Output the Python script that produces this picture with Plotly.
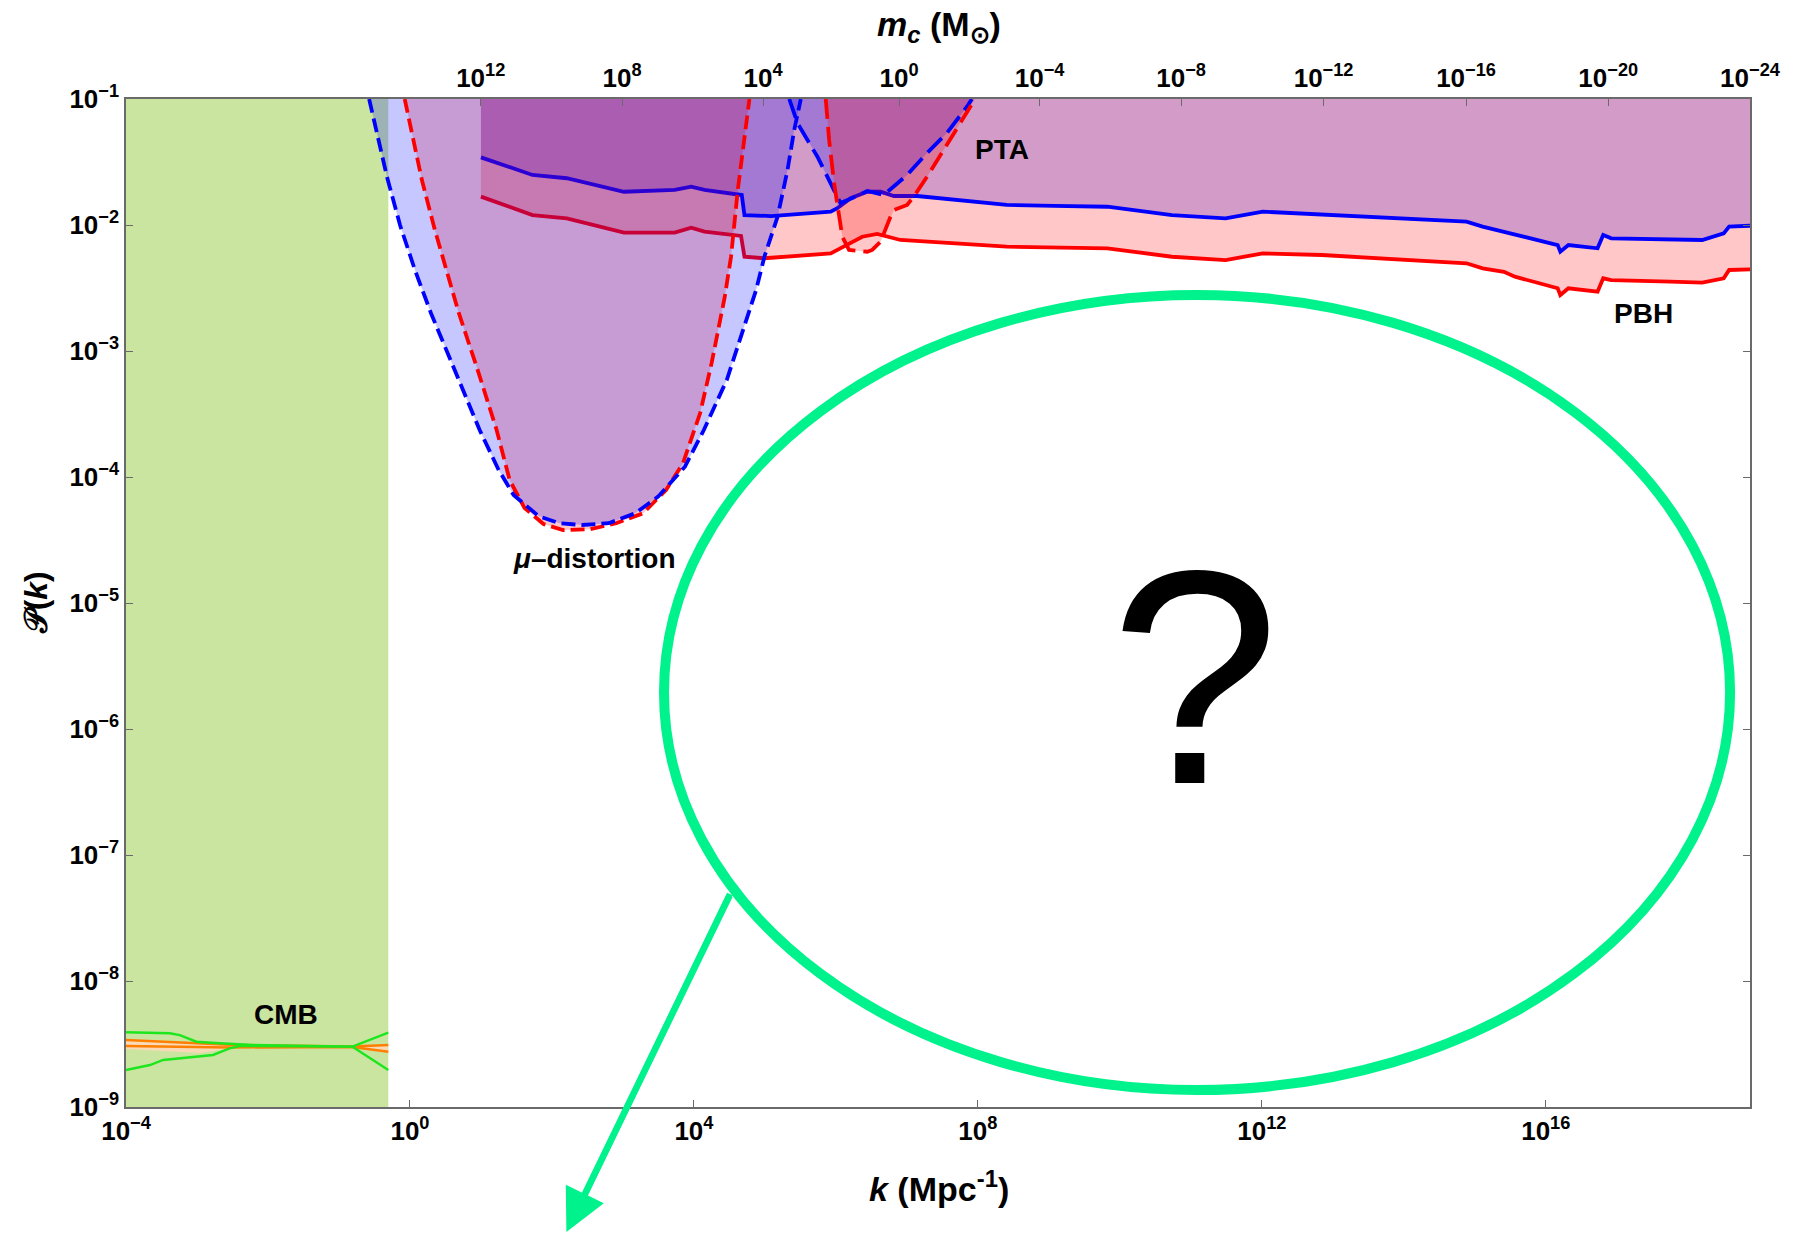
import numpy as np
import plotly.graph_objects as go

# ---------------- data (log10 values) ----------------
k_range_log10 = [-4.0, 18.877]          # k in Mpc^-1
P_range_log10 = [-9.0, -1.0]

y_tick_exp = [-9, -8, -7, -6, -5, -4, -3, -2, -1]
x_tick_exp = [-4, 0, 4, 8, 12, 16]

# top axis: m_c (solar masses) labels and the k where each sits
mc_tick_exp = [12, 8, 4, 0, -4, -8, -12, -16, -20, -24]
mc_tick_k_log10 = [0.997, 2.989, 4.975, 6.891, 8.870, 10.863, 12.870, 14.877, 16.880, 18.877]

# CMB
cmb_band_k_log10 = [-4.0, -0.305]
cmb_green_up_k = [-4.0, -3.382, -3.242, -3.008, -2.681, -2.213, -0.810, -0.561, -0.305]
cmb_green_up_P = [-8.407, -8.415, -8.429, -8.482, -8.494, -8.508, -8.521, -8.468, -8.410]
cmb_green_lo_k = [-4.0, -3.663, -3.476, -3.242, -2.961, -2.775, -2.540, -2.400, -0.810, -0.561, -0.305]
cmb_green_lo_P = [-8.706, -8.667, -8.627, -8.613, -8.601, -8.587, -8.534, -8.516, -8.521, -8.610, -8.706]
cmb_orange_up_k = [-4.0, -2.540, -0.810, -0.305]
cmb_orange_up_P = [-8.468, -8.506, -8.520, -8.508]
cmb_orange_lo_k = [-4.0, -2.540, -0.810, -0.305]
cmb_orange_lo_P = [-8.516, -8.528, -8.524, -8.561]
cmb_peach_lo_k = [-4.0, -2.961, -2.400, -0.810, -0.305]
cmb_peach_lo_P = [-8.540, -8.571, -8.524, -8.528, -8.571]

# PBH bounds (solid)
pbh_blue_k = [1.000, 1.726, 2.209, 3.015, 3.729, 3.962, 4.150, 4.674, 4.712, 5.085, 5.927, 6.021,
              6.208, 6.442, 6.629, 6.817, 7.144, 8.407, 9.074, 9.825, 10.734, 11.489, 12.014, 12.846,
              14.884, 15.110, 15.565, 16.168, 16.205, 16.319, 16.730, 16.809, 16.922, 17.752, 18.204,
              18.507, 18.583, 18.877]
pbh_blue_P = [-1.463, -1.603, -1.629, -1.736, -1.722, -1.696, -1.722, -1.762, -1.921, -1.929, -1.894,
              -1.867, -1.788, -1.736, -1.736, -1.770, -1.770, -1.841, -1.849, -1.855, -1.921, -1.947,
              -1.894, -1.915, -1.974, -2.013, -2.079, -2.159, -2.212, -2.159, -2.185, -2.079, -2.106,
              -2.113, -2.119, -2.066, -2.013, -2.006]
pbh_red_k = [1.000, 1.726, 2.209, 3.015, 3.729, 3.962, 4.150, 4.664, 4.712, 4.993, 5.927, 6.161,
             6.372, 6.582, 6.723, 6.909, 8.407, 9.825, 10.734, 11.489, 12.014, 12.846, 14.884, 15.110,
             15.411, 15.565, 16.168, 16.205, 16.319, 16.730, 16.809, 16.922, 17.752, 18.204, 18.507,
             18.583, 18.877]
pbh_red_P = [-1.775, -1.921, -1.947, -2.061, -2.061, -2.021, -2.053, -2.087, -2.252, -2.264, -2.225,
             -2.159, -2.093, -2.071, -2.093, -2.119, -2.172, -2.185, -2.252, -2.278, -2.225, -2.238,
             -2.304, -2.344, -2.371, -2.410, -2.502, -2.556, -2.502, -2.529, -2.423, -2.437, -2.450,
             -2.458, -2.423, -2.357, -2.352]

# mu-distortion bounds (dashed)
mu_blue_k = [-0.575, -0.323, -0.140, 0.070, 0.295, 0.589, 0.982, 1.249, 1.460, 1.811, 2.101, 2.424,
             2.800, 3.172, 3.495, 3.874, 4.140, 4.463, 4.688, 4.876, 4.993, 5.179, 5.319, 5.413, 5.506]
mu_blue_P = [-1.0, -1.619, -2.0, -2.357, -2.698, -3.095, -3.627, -3.944, -4.143, -4.310, -4.367, -4.381,
             -4.367, -4.288, -4.156, -3.918, -3.627, -3.230, -2.833, -2.516, -2.252, -1.934, -1.563,
             -1.246, -1.0]
mu_red_k = [-0.074, 0.168, 0.351, 0.688, 0.968, 1.221, 1.404, 1.614, 1.881, 2.156, 2.532, 2.905,
            3.284, 3.607, 3.846, 4.088, 4.250, 4.435, 4.523, 4.618, 4.782]
mu_red_P = [-1.0, -1.643, -2.040, -2.698, -3.175, -3.627, -4.024, -4.246, -4.373, -4.421, -4.415,
            -4.367, -4.288, -4.103, -3.891, -3.492, -3.095, -2.569, -2.252, -1.722, -1.0]

# PTA bounds (dashed)
pta_blue_k = [5.343, 5.460, 5.740, 5.975, 6.063, 6.232, 6.442, 6.676, 7.003, 7.284, 7.565, 7.846, 7.916]
pta_blue_P = [-1.0, -1.193, -1.458, -1.722, -1.825, -1.786, -1.730, -1.762, -1.603, -1.429, -1.270,
              -1.061, -1.0]
pta_red_k = [5.857, 5.905, 5.975, 6.021, 6.091, 6.185, 6.442, 6.512, 6.629, 6.769, 6.817, 7.003,
             7.097, 7.284, 7.518, 7.751, 7.962]
pta_red_P = [-1.0, -1.325, -1.669, -1.855, -2.093, -2.198, -2.212, -2.198, -2.133, -1.934, -1.881,
             -1.841, -1.775, -1.617, -1.405, -1.193, -1.0]

# ---------------- styling ----------------
FONT = "Liberation Sans, Arial, Helvetica, sans-serif"
BLUE_FILL = "rgba(0,0,255,0.22)"
RED_FILL = "rgba(255,0,0,0.22)"
GREEN_BAND = "#c9e5a0"
ACCENT = "#00f28c"

W, H = 1793, 1233
L_M, R_M, T_M, B_M = 126, 37, 99, 126
PW, PH = W - L_M - R_M, H - T_M - B_M


def px_x(x):
    return (x - L_M) / PW


def px_y(y):
    return (H - B_M - y) / PH


def v(a):
    return 10.0 ** np.asarray(a, dtype=float)


P_TOP = 10.0 ** P_range_log10[1]
P_BOT = 10.0 ** P_range_log10[0]

fig = go.Figure()


def fill_poly(xs, ys, color):
    fig.add_trace(go.Scatter(x=xs, y=ys, mode="lines", fill="toself", fillcolor=color,
                             line=dict(width=0, color=color), hoverinfo="skip", showlegend=False))


def line(xs, ys, color, width, dash="solid"):
    fig.add_trace(go.Scatter(x=xs, y=ys, mode="lines", line=dict(color=color, width=width, dash=dash),
                             hoverinfo="skip", showlegend=False))


# CMB band
kb = v(cmb_band_k_log10)
fill_poly([kb[0], kb[1], kb[1], kb[0]], [P_BOT, P_BOT, P_TOP, P_TOP], GREEN_BAND)
pk = list(v(cmb_orange_up_k)) + list(v(cmb_peach_lo_k))[::-1]
pp = list(v(cmb_orange_up_P)) + list(v(cmb_peach_lo_P))[::-1]
fill_poly(pk, pp, "rgba(255,215,185,0.9)")
line(v(cmb_orange_up_k), v(cmb_orange_up_P), "#ff8000", 2.4)
line(v(cmb_orange_lo_k), v(cmb_orange_lo_P), "#ff8000", 2.4)
line(v(cmb_green_up_k), v(cmb_green_up_P), "#1ee61e", 2.4)
line(v(cmb_green_lo_k), v(cmb_green_lo_P), "#1ee61e", 2.4)

# PBH regions (above the bounds)
bk, bp = v(pbh_blue_k), v(pbh_blue_P)
fill_poly(list(bk) + [bk[-1], bk[0]], list(bp) + [P_TOP, P_TOP], BLUE_FILL)
rk, rp = v(pbh_red_k), v(pbh_red_P)
fill_poly(list(rk) + [rk[-1], rk[0]], list(rp) + [P_TOP, P_TOP], RED_FILL)
line(bk, bp, "#0000ff", 3.8)
line(rk, rp, "#ff0000", 3.8)

# mu-distortion regions
fill_poly(v(mu_red_k), v(mu_red_P), RED_FILL)
fill_poly(v(mu_blue_k), v(mu_blue_P), BLUE_FILL)
# PTA regions
fill_poly(v(pta_blue_k), v(pta_blue_P), BLUE_FILL)
fill_poly(v(pta_red_k), v(pta_red_P), RED_FILL)

# dashed bounds on top
line(v(mu_red_k), v(mu_red_P), "#ff0000", 3.8, "14px,6px")
line(v(mu_blue_k), v(mu_blue_P), "#0000ff", 3.8, "14px,6px")
line(v(pta_blue_k), v(pta_blue_P), "#0000ff", 3.8, "20px,8px")
line(v(pta_red_k), v(pta_red_P), "#ff0000", 3.8, "20px,8px")

# invisible trace so the top (m_c) axis is drawn
fig.add_trace(go.Scatter(x=[v(mc_tick_k_log10)[3]], y=[1e-5], xaxis="x2", mode="markers",
                         marker=dict(opacity=0), hoverinfo="skip", showlegend=False))


def sup_label(e):
    s = str(e).replace("-", "\u2212")
    return f"<b>10<sup>{s}</sup></b>"


axis_common = dict(type="log", showgrid=False, zeroline=False, showline=True, linecolor="#6a6a6a",
                   linewidth=1.5, ticks="inside", ticklen=7, tickwidth=1.3, tickcolor="#6a6a6a",
                   tickfont=dict(family=FONT, size=26, color="black"))

fig.update_layout(
    width=W, height=H,
    margin=dict(l=L_M, r=R_M, t=T_M, b=B_M, pad=0),
    paper_bgcolor="white", plot_bgcolor="white",
    showlegend=False,
    xaxis=dict(range=k_range_log10, tickvals=list(v(x_tick_exp)),
               ticktext=[sup_label(e) for e in x_tick_exp], mirror=False, **axis_common),
    xaxis2=dict(range=k_range_log10, overlaying="x", side="top", tickvals=list(v(mc_tick_k_log10)),
                ticktext=[sup_label(e) for e in mc_tick_exp], **axis_common),
    yaxis=dict(range=P_range_log10, tickvals=list(v(y_tick_exp)),
               ticktext=[sup_label(e) for e in y_tick_exp], mirror="ticks", **axis_common),
)

ann = []
lab = dict(family=FONT, size=28, color="black")
ann.append(dict(x=px_x(1005), y=px_y(149), text="<b>PTA</b>", font=lab))
ann.append(dict(x=px_x(1649), y=px_y(313), text="<b>PBH</b>", font=lab))
ann.append(dict(x=px_x(287), y=px_y(1014), text="<b>CMB</b>", font=lab))
ann.append(dict(x=px_x(596), y=px_y(558), text="<b><i>\u03bc</i>\u2013distortion</b>", font=lab))
ann.append(dict(x=px_x(942), y=px_y(1186), text="<b><i>k</i> (Mpc<sup>-1</sup>)</b>",
                font=dict(family=FONT, size=34, color="black")))
ann.append(dict(x=px_x(942), y=px_y(26), text="<b><i>m<sub>c</sub></i> (M<sub>\u2299</sub>)</b>",
                font=dict(family=FONT, size=34, color="black")))
ann.append(dict(x=px_x(36), y=px_y(603), text="<b>\U0001D4AB(<i>k</i>)</b>", textangle=-90,
                font=dict(family=FONT, size=32, color="black")))
ann.append(dict(x=px_x(1199), y=px_y(677), text="?",
                font=dict(family=FONT, size=305, color="black")))
for a in ann:
    a.update(xref="paper", yref="paper", showarrow=False, xanchor="center", yanchor="middle")

# arrow
ann.append(dict(xref="paper", yref="paper", x=px_x(568), y=px_y(1232), ax=732 - 568, ay=894 - 1232,
                text="", showarrow=True, arrowhead=2, arrowsize=1.3, arrowwidth=6.5,
                arrowcolor=ACCENT))
fig.update_layout(annotations=ann)

# thicker arrow shaft
fig.add_shape(type="line", xref="paper", yref="paper", x0=px_x(732), y0=px_y(894),
              x1=px_x(586), y1=px_y(1196), line=dict(color=ACCENT, width=6), layer="above")

fig.add_shape(type="circle", xref="paper", yref="paper", x0=px_x(666), x1=px_x(1736),
              y0=px_y(1090), y1=px_y(295), line=dict(color=ACCENT, width=10), layer="above")

fig.write_html("out.html", config={"displayModeBar": False},
               post_script="document.body.style.margin='0';document.body.style.overflow='hidden';")
